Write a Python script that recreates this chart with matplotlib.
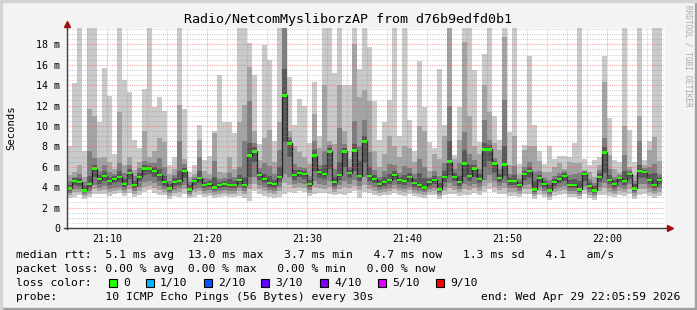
import numpy as np
import matplotlib
matplotlib.use('Agg')
import matplotlib.pyplot as plt
from matplotlib.patches import Rectangle
from matplotlib.lines import Line2D

# smokeping data, one step = 30s, first step starts 21:06:00 (x in minutes)
step = 0.5

med = [3.9, 4.6, 4.5, 3.7, 4.3, 5.8, 4.8, 5.1, 4.6, 4.8,
       5.0, 4.3, 5.4, 4.2, 5.0, 5.8, 5.8, 5.6, 5.2, 4.5,
       3.9, 4.5, 4.6, 5.6, 3.8, 4.6, 4.9, 4.2, 4.3, 4.0,
       4.2, 4.3, 4.2, 4.2, 4.7, 4.2, 7.1, 7.5, 5.2, 4.8,
       4.4, 4.3, 5.0, 13.0, 8.3, 5.2, 5.4, 5.3, 4.3, 7.1,
       5.5, 5.3, 7.5, 4.5, 5.2, 7.5, 5.4, 7.6, 5.1, 8.5,
       5.1, 4.8, 4.3, 4.5, 4.7, 5.2, 4.7, 4.6, 5.0, 4.4,
       4.2, 4.0, 4.5, 4.7, 3.8, 5.0, 6.5, 5.0, 4.5, 6.3,
       5.1, 5.8, 4.8, 7.7, 7.7, 6.3, 4.9, 6.2, 4.6, 4.6,
       4.2, 5.3, 5.6, 3.8, 4.9, 4.3, 3.7, 4.5, 4.8, 5.1,
       4.2, 4.2, 3.8, 5.3, 4.1, 3.7, 5.0, 7.4, 4.7, 4.3,
       4.9, 4.6, 5.3, 3.9, 5.6, 5.5, 4.7, 4.2, 4.7]

# sorted ping levels (p1 = fastest, p10 = slowest)
p10 = [8.0, 14.2, 20, 7.5, 20, 20, 10.4, 15.7, 12.9, 7.3,
       20, 14.5, 13.3, 8.6, 7.8, 13.6, 20, 11.9, 12.8, 11.5,
       6.2, 7.0, 20, 11.7, 5.5, 6.2, 10.1, 6.7, 7.1, 9.5,
       15.0, 10.4, 10.4, 9.3, 20, 20, 18.1, 15.0, 8.2, 17.9,
       16.5, 8.5, 20, 20, 14.8, 10.1, 12.6, 12.0, 8.3, 14.3,
       9.0, 20, 20, 15.2, 20, 14.0, 14.0, 20, 15.6, 20,
       17.7, 12.4, 8.6, 10.4, 12.5, 20, 9.0, 20, 10.6, 7.5,
       16.4, 11.9, 8.4, 7.8, 15.6, 10.1, 20, 7.2, 11.9, 20,
       20, 15.5, 8.4, 17.1, 20, 11.0, 8.6, 20, 9.4, 20,
       6.3, 8.1, 16.9, 10.1, 7.5, 6.3, 8.0, 6.8, 7.1, 7.1,
       7.0, 8.3, 20, 6.8, 6.2, 6.7, 7.0, 16.9, 10.8, 6.7,
       6.5, 20, 9.6, 6.5, 20, 6.7, 8.5, 20, 20]

p9 = [5.2, 5.5, 6.2, 5.0, 11.7, 11.0, 6.9, 7.0, 6.5, 5.8,
      11.4, 6.2, 7.0, 5.7, 6.5, 9.5, 7.0, 7.5, 8.8, 8.4,
      5.3, 5.8, 12.1, 6.8, 5.0, 5.3, 8.6, 5.6, 5.3, 9.3,
      5.5, 5.4, 7.0, 5.8, 10.4, 12.1, 15.8, 9.5, 6.7, 8.8,
      9.6, 6.5, 10.4, 20, 9.5, 8.0, 7.4, 7.0, 6.3, 11.2,
      7.8, 14.0, 8.5, 8.2, 14.0, 9.5, 6.8, 18.0, 12.8, 13.5,
      12.4, 7.5, 6.0, 7.3, 9.0, 8.0, 7.0, 8.0, 7.8, 6.5,
      10.0, 9.5, 5.6, 7.3, 6.8, 9.0, 20, 6.8, 8.6, 18.2,
      11.0, 8.0, 7.3, 14.0, 11.4, 8.3, 7.6, 18.7, 6.2, 9.0,
      5.3, 7.6, 8.0, 8.0, 6.6, 5.5, 5.5, 6.0, 6.4, 5.8,
      6.5, 6.4, 6.4, 5.7, 5.5, 5.0, 6.2, 14.3, 7.2, 5.8,
      5.4, 10.0, 6.0, 5.2, 11.0, 6.2, 7.6, 8.9, 6.6]

p8 = [4.6, 5.0, 5.3, 4.5, 7.5, 6.9, 5.6, 6.2, 5.5, 5.3,
      6.4, 5.4, 6.2, 5.1, 5.9, 6.6, 6.4, 6.4, 6.9, 6.0,
      4.6, 5.2, 8.5, 6.3, 4.5, 5.0, 7.0, 4.9, 4.8, 6.6,
      4.8, 4.9, 5.4, 5.0, 6.0, 8.5, 12.4, 8.3, 5.9, 6.4,
      6.1, 5.3, 7.6, 20, 8.9, 6.3, 6.0, 5.9, 5.1, 8.5,
      6.2, 7.5, 8.1, 5.8, 9.8, 8.2, 6.0, 10.5, 8.0, 10.6,
      7.4, 5.7, 5.0, 5.6, 6.3, 6.2, 5.4, 6.1, 5.9, 5.3,
      6.8, 6.0, 5.0, 5.6, 5.1, 6.4, 12.0, 5.8, 6.4, 9.4,
      7.3, 6.7, 5.8, 10.6, 8.6, 6.9, 5.8, 12.5, 5.3, 6.1,
      4.8, 6.0, 6.5, 5.5, 5.6, 4.9, 4.7, 5.1, 5.4, 5.6,
      5.2, 5.3, 5.4, 5.6, 4.8, 4.4, 5.7, 8.8, 5.8, 5.0,
      5.2, 7.2, 5.7, 4.6, 8.5, 5.9, 6.0, 6.3, 5.3]

p7 = [4.2, 4.9, 4.9, 4.1, 5.1, 6.2, 5.2, 5.6, 5.0, 5.1,
      5.6, 4.8, 5.8, 4.6, 5.4, 6.2, 6.1, 6.0, 5.8, 5.1,
      4.3, 4.9, 5.6, 5.9, 4.2, 4.8, 5.6, 4.5, 4.6, 5.0,
      4.5, 4.6, 4.8, 4.6, 5.2, 5.0, 8.3, 7.9, 5.5, 5.3,
      5.1, 4.7, 6.0, 15.6, 8.6, 5.7, 5.7, 5.6, 4.7, 7.6,
      5.8, 6.2, 7.8, 5.0, 6.5, 7.8, 5.7, 8.2, 6.6, 9.0,
      6.0, 5.2, 4.7, 5.0, 5.3, 5.6, 5.0, 5.2, 5.4, 4.8,
      5.4, 4.9, 4.8, 5.1, 4.4, 5.6, 8.5, 5.4, 5.1, 7.6,
      6.2, 6.2, 5.3, 8.3, 8.1, 6.6, 5.3, 8.0, 5.0, 5.2,
      4.5, 5.6, 6.0, 4.6, 5.2, 4.6, 4.2, 4.8, 5.1, 5.4,
      4.7, 4.8, 4.6, 5.5, 4.5, 4.1, 5.4, 7.9, 5.2, 4.7,
      5.0, 5.6, 5.5, 4.3, 6.2, 5.7, 5.3, 5.4, 5.0]

p4 = [3.6, 4.2, 4.1, 3.5, 3.9, 5.0, 4.3, 4.6, 4.2, 4.4,
      4.5, 4.0, 4.8, 3.9, 4.6, 5.2, 5.3, 5.0, 4.6, 4.1,
      3.6, 4.1, 4.2, 4.9, 3.5, 4.2, 4.4, 3.9, 4.0, 3.7,
      3.9, 4.0, 3.9, 3.9, 4.3, 3.9, 5.0, 6.5, 4.7, 4.4,
      4.0, 3.9, 4.5, 8.4, 7.0, 4.7, 5.0, 4.8, 4.0, 5.6,
      4.9, 4.8, 5.8, 4.1, 4.7, 6.0, 4.9, 5.6, 4.6, 6.4,
      4.6, 4.4, 4.0, 4.1, 4.3, 4.7, 4.3, 4.2, 4.5, 4.0,
      3.9, 3.7, 4.1, 4.3, 3.5, 4.5, 5.2, 4.6, 4.1, 5.0,
      4.6, 5.0, 4.4, 6.0, 6.6, 5.4, 4.5, 5.1, 4.2, 4.2,
      3.9, 4.7, 4.9, 3.5, 4.4, 3.9, 3.4, 4.1, 4.4, 4.6,
      3.9, 3.9, 3.5, 4.6, 3.8, 3.4, 4.5, 5.4, 4.3, 3.9,
      4.5, 4.2, 4.8, 3.6, 4.9, 4.9, 4.3, 3.9, 4.3]

p3 = [3.4, 3.8, 3.8, 3.3, 3.6, 4.2, 3.9, 4.1, 3.8, 3.9,
      4.0, 3.7, 4.2, 3.6, 4.0, 4.5, 4.6, 4.4, 4.1, 3.8,
      3.4, 3.7, 3.9, 4.2, 3.3, 3.8, 3.9, 3.6, 3.7, 3.5,
      3.6, 3.7, 3.6, 3.6, 3.9, 3.6, 4.3, 5.0, 4.2, 4.0,
      3.7, 3.6, 4.0, 5.3, 5.0, 4.3, 4.4, 4.3, 3.7, 4.6,
      4.3, 4.2, 4.6, 3.8, 4.2, 4.6, 4.3, 4.7, 4.1, 5.0,
      4.2, 4.0, 3.7, 3.8, 3.9, 4.2, 3.9, 3.8, 4.0, 3.7,
      3.6, 3.5, 3.8, 3.9, 3.3, 4.0, 4.4, 4.1, 3.8, 4.3,
      4.1, 4.3, 4.0, 4.7, 5.2, 4.6, 4.1, 4.4, 3.9, 3.9,
      3.6, 4.2, 4.3, 3.3, 4.0, 3.6, 3.2, 3.8, 4.0, 4.1,
      3.6, 3.6, 3.3, 4.1, 3.5, 3.2, 4.0, 4.4, 3.9, 3.6,
      4.0, 3.8, 4.3, 3.4, 4.3, 4.3, 3.9, 3.6, 3.9]

p2 = [3.2, 3.5, 3.5, 3.1, 3.3, 3.8, 3.6, 3.7, 3.5, 3.6,
      3.7, 3.4, 3.8, 3.3, 3.6, 4.0, 4.1, 3.9, 3.7, 3.5,
      3.1, 3.4, 3.5, 3.8, 3.1, 3.5, 3.6, 3.3, 3.4, 3.2,
      3.3, 3.4, 3.3, 3.3, 3.6, 3.3, 3.8, 4.3, 3.8, 3.6,
      3.4, 3.3, 3.6, 4.4, 4.2, 3.9, 4.0, 3.9, 3.4, 4.0,
      3.9, 3.8, 4.0, 3.5, 3.8, 4.0, 3.9, 4.1, 3.7, 4.2,
      3.8, 3.6, 3.4, 3.5, 3.6, 3.8, 3.6, 3.5, 3.7, 3.4,
      3.3, 3.2, 3.5, 3.6, 3.1, 3.6, 3.9, 3.7, 3.5, 3.8,
      3.7, 3.9, 3.6, 4.1, 4.4, 4.0, 3.7, 3.9, 3.5, 3.5,
      3.3, 3.8, 3.8, 3.1, 3.6, 3.3, 3.0, 3.5, 3.6, 3.7,
      3.3, 3.3, 3.1, 3.7, 3.2, 3.0, 3.6, 3.9, 3.5, 3.3,
      3.6, 3.5, 3.8, 3.1, 3.8, 3.8, 3.5, 3.3, 3.5]

p1 = [2.9, 3.0, 3.2, 2.8, 3.0, 3.3, 3.3, 3.3, 3.1, 3.3,
      3.4, 3.1, 3.4, 3.0, 3.2, 3.5, 3.7, 3.4, 3.2, 3.2,
      2.8, 3.1, 3.0, 3.3, 2.9, 3.0, 3.2, 3.0, 3.1, 2.9,
      3.0, 3.1, 3.0, 3.0, 3.1, 2.9, 2.6, 3.6, 3.3, 3.1,
      3.0, 2.9, 3.0, 3.3, 3.5, 3.4, 3.6, 3.5, 3.1, 3.3,
      3.4, 3.4, 3.3, 3.2, 3.3, 3.2, 3.4, 3.6, 2.9, 3.5,
      3.4, 3.2, 3.1, 3.2, 3.2, 3.4, 3.2, 3.1, 3.3, 3.1,
      3.0, 2.9, 3.2, 3.2, 2.8, 3.2, 3.3, 3.3, 3.1, 3.2,
      3.2, 3.4, 3.2, 3.5, 3.8, 3.5, 3.3, 3.3, 3.1, 3.1,
      3.0, 3.3, 3.3, 2.8, 3.2, 3.0, 2.7, 3.1, 3.2, 3.3,
      3.0, 3.0, 2.8, 3.3, 2.9, 2.7, 3.2, 3.2, 3.1, 3.0,
      3.2, 3.1, 3.3, 2.8, 3.2, 3.3, 3.1, 2.9, 3.1]

x_ticks = [4, 14, 24, 34, 44, 54]
x_labels = ['21:10', '21:20', '21:30', '21:40', '21:50', '22:00']
y_ticks = [0, 2, 4, 6, 8, 10, 12, 14, 16, 18]
y_labels = ['0', '2 m', '4 m', '6 m', '8 m', '10 m', '12 m', '14 m', '16 m', '18 m']

loss_labels = ['0', '1/10', '2/10', '3/10', '4/10', '5/10', '9/10']
loss_colors = ['#26ff00', '#00b8ff', '#0059ff', '#5e00ff', '#7e00ff', '#dd00ff', '#ff0000']

title = 'Radio/NetcomMysliborzAP from d76b9edfd0b1'
line1 = 'median rtt:  5.1 ms avg  13.0 ms max   3.7 ms min   4.7 ms now   1.3 ms sd   4.1   am/s'
line2 = 'packet loss: 0.00 % avg  0.00 % max   0.00 % min   0.00 % now'
line3 = 'loss color:'
line4 = 'probe:       10 ICMP Echo Pings (56 Bytes) every 30s'
end_text = 'end: Wed Apr 29 22:05:59 2026'

W, H = 697, 310
MONO = 'DejaVu Sans Mono'


def fx(x):
    return x / W


def fy(y):
    return 1 - y / H


fig = plt.figure(figsize=(W / 100, H / 100), dpi=100, facecolor='#f3f3f3')

# frame
fig.patches.append(Rectangle((0, 0), 1, 2 / H, transform=fig.transFigure, color='#a0a0a0'))
fig.patches.append(Rectangle((1 - 2 / W, 0), 2 / W, 1, transform=fig.transFigure, color='#a0a0a0'))
fig.patches.append(Rectangle((0, 1 - 2 / H), 1, 2 / H, transform=fig.transFigure, color='#d4d4d4'))
fig.patches.append(Rectangle((0, 0), 2 / W, 1, transform=fig.transFigure, color='#d4d4d4'))

ax = fig.add_axes([fx(67), fy(228), 598 / W, 200 / H])
ax.set_facecolor('white')

edges = np.arange(len(med) + 1) * step

# smoke, outer pings lighter
bands = [(p1, p10, '#cacaca'), (p2, p9, '#a4a4a4'), (p3, p8, '#7e7e7e'), (p4, p7, '#585858')]
for lo, hi, c in bands:
    ax.stairs(hi, edges, baseline=lo, fill=True, color=c, lw=0)

# median line + loss colour marks
med = np.array(med)
ax.stairs(med, edges, baseline=None, color='#202020', lw=0.9)
ax.stairs(med + 0.13, edges, baseline=med - 0.13, fill=True, color=loss_colors[0], lw=0)

ax.set_xlim(0, 59.8)
ax.set_ylim(0, 19.6)

# grid, drawn over the smoke like rrdtool does
ax.set_xticks(np.arange(0, 60, 2), minor=True)
ax.set_yticks(np.arange(0, 19.6, 0.5), minor=True)
ax.set_xticks(x_ticks, x_labels)
ax.set_yticks(y_ticks, y_labels)
ax.grid(which='minor', color='#909090', alpha=0.4, ls=(0, (1, 1)), lw=0.8)
ax.grid(which='major', color='#ff5050', alpha=0.5, ls=(0, (1, 1)), lw=0.8)
ax.set_axisbelow(False)

for s in ax.spines.values():
    s.set_visible(False)
ax.tick_params(which='both', length=0, labelsize=7.2, colors='black')
ax.tick_params(axis='y', pad=5)
ax.tick_params(axis='x', pad=4)
for lab in ax.get_xticklabels() + ax.get_yticklabels():
    lab.set_family(MONO)

# axes with arrows
fig.add_artist(Line2D([fx(67), fx(67)], [fy(229), fy(24)], color='#404040', lw=1))
fig.add_artist(Line2D([fx(64), fx(670)], [fy(228), fy(228)], color='#404040', lw=1))
fig.add_artist(Line2D([fx(67)], [fy(24)], marker='^', color='#a01010', markersize=4.5))
fig.add_artist(Line2D([fx(670)], [fy(228)], marker='>', color='#a01010', markersize=4.5))

fig.text(0.5, fy(19), title, ha='center', va='center', fontsize=9.6, family=MONO)
fig.text(fx(11), fy(128), 'Seconds', rotation=90, ha='center', va='center', fontsize=7.6, family=MONO)
fig.text(fx(688), fy(5), 'RRDTOOL / TOBI OETIKER', rotation=270, ha='center', va='top',
         fontsize=5.6, family=MONO, color='#a8a8a8')

# legend
fs = 8.2
fig.text(fx(16), fy(255), line1, va='center', fontsize=fs, family=MONO)
fig.text(fx(16), fy(269), line2, va='center', fontsize=fs, family=MONO)
fig.text(fx(16), fy(283), line3, va='center', fontsize=fs, family=MONO)
fig.text(fx(16), fy(297), line4, va='center', fontsize=fs, family=MONO)
fig.text(fx(680), fy(297), end_text, ha='right', va='center', fontsize=fs, family=MONO)

sq_x = [109, 146, 204, 261, 320, 378, 436]
for x, lab, c in zip(sq_x, loss_labels, loss_colors):
    fig.patches.append(Rectangle((fx(x), fy(287)), 8 / W, 8 / H, transform=fig.transFigure,
                                 facecolor=c, edgecolor='black', lw=0.8))
    fig.text(fx(x + 14), fy(283), lab, va='center', fontsize=fs, family=MONO)

fig.savefig('out.png', dpi=100, facecolor=fig.get_facecolor())
